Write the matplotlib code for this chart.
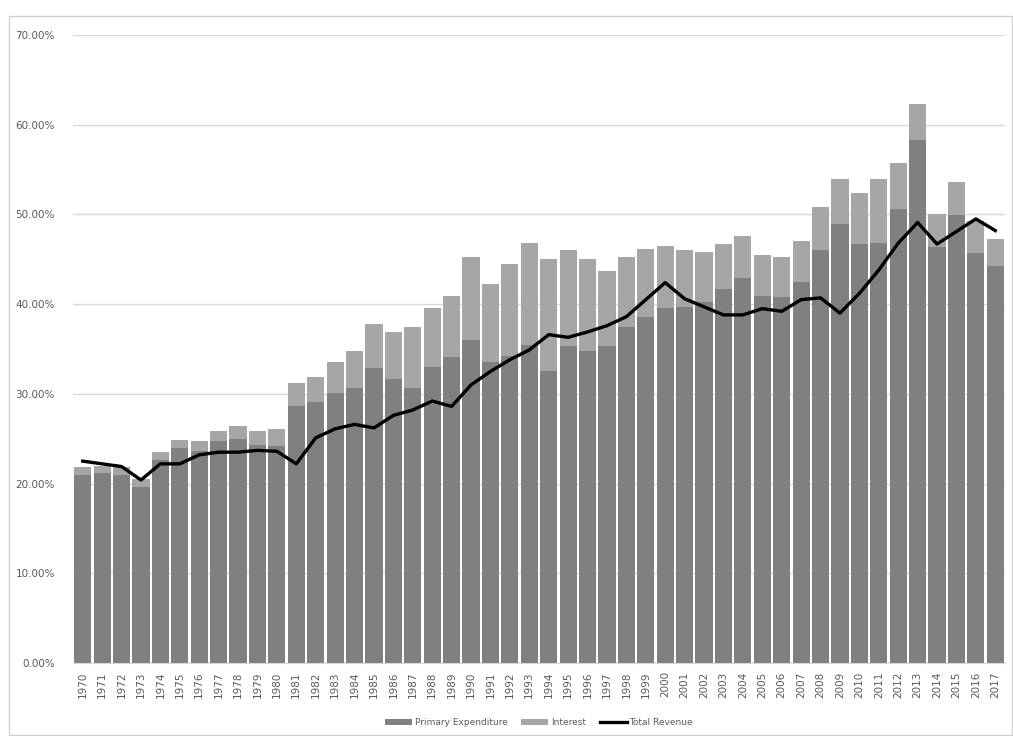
import matplotlib.pyplot as plt
import numpy as np
from matplotlib.patches import Rectangle

# values, in percent of GDP
years = list(range(1970, 2018))
primary = [21.0, 21.2, 21.0, 19.6, 22.6, 24.0, 23.6, 24.8, 25.0, 24.3,
           24.2, 28.6, 29.1, 30.1, 30.6, 32.9, 31.7, 30.7, 33.0, 34.1,
           36.0, 33.5, 34.2, 35.4, 32.6, 35.3, 34.8, 35.3, 37.5, 38.6,
           39.6, 39.7, 40.2, 41.7, 42.9, 40.9, 40.8, 42.5, 46.0, 48.9,
           46.7, 46.8, 50.6, 58.3, 46.4, 49.9, 45.7, 44.2]
total_exp = [21.9, 22.0, 21.8, 20.5, 23.5, 24.9, 24.8, 25.9, 26.4, 25.9,
             26.1, 31.2, 31.9, 33.5, 34.8, 37.8, 36.9, 37.4, 39.6, 40.9,
             45.2, 42.2, 44.5, 46.8, 45.0, 46.0, 45.0, 43.7, 45.2, 46.2,
             46.5, 46.0, 45.8, 46.7, 47.6, 45.5, 45.2, 47.0, 50.8, 54.0,
             52.4, 54.0, 55.7, 62.3, 50.1, 53.6, 49.3, 47.3]
revenue = [22.5, 22.2, 21.9, 20.4, 22.2, 22.2, 23.2, 23.5, 23.5, 23.7,
           23.6, 22.2, 25.1, 26.1, 26.6, 26.2, 27.6, 28.2, 29.2, 28.6,
           31.0, 32.5, 33.8, 34.9, 36.6, 36.3, 36.9, 37.6, 38.6, 40.5,
           42.4, 40.6, 39.7, 38.8, 38.8, 39.5, 39.2, 40.5, 40.7, 39.0,
           41.2, 43.8, 46.8, 49.1, 46.7, 48.1, 49.5, 48.2]

interest = [t - p for t, p in zip(total_exp, primary)]

fig = plt.figure(figsize=(10.13, 7.36), dpi=100)
ax = fig.add_axes([73 / 1013, 1 - 663 / 736, 932 / 1013, 628 / 736])

x = np.arange(len(years))
b1 = ax.bar(x, primary, width=0.88, color="#808080", label="Primary Expenditure", zorder=2)
b2 = ax.bar(x, interest, bottom=primary, width=0.88, color="#a6a6a6", label="Interest", zorder=2)
l1, = ax.plot(x, revenue, color="black", linewidth=2.4, label="Total Revenue", zorder=3)

ax.set_xlim(-0.5, len(years) - 0.5)
ax.set_ylim(0, 70)
ax.set_yticks(np.arange(0, 71, 10))
ax.set_yticklabels([f"{v:.2f}%" for v in range(0, 71, 10)], fontsize=7.5, color="#595959")
ax.set_xticks(x)
ax.set_xticklabels([str(y) for y in years], rotation=90, fontsize=7.5, color="#595959")
ax.tick_params(length=0)
ax.tick_params(axis="y", pad=13)
ax.tick_params(axis="x", pad=6)
ax.set_axisbelow(True)
ax.grid(axis="y", color="#d9d9d9", linewidth=1)
for s in ["top", "right", "left"]:
    ax.spines[s].set_visible(False)
ax.spines["bottom"].set_color("#d9d9d9")

ax.legend(handles=[b1, b2, l1], loc="upper center", bbox_to_anchor=(0.5, -0.075),
          ncol=3, frameon=False, fontsize=6.5, handlelength=3, handleheight=0.5,
          columnspacing=1.5, handletextpad=0.3, labelcolor="#595959")

fig.patches.append(Rectangle((9 / 1013, 0.002), 1003 / 1013, 1 - 16 / 736 - 0.002,
                             transform=fig.transFigure, fill=False,
                             edgecolor="#d0d0d0", linewidth=1))

fig.savefig("out.png", dpi=100)
